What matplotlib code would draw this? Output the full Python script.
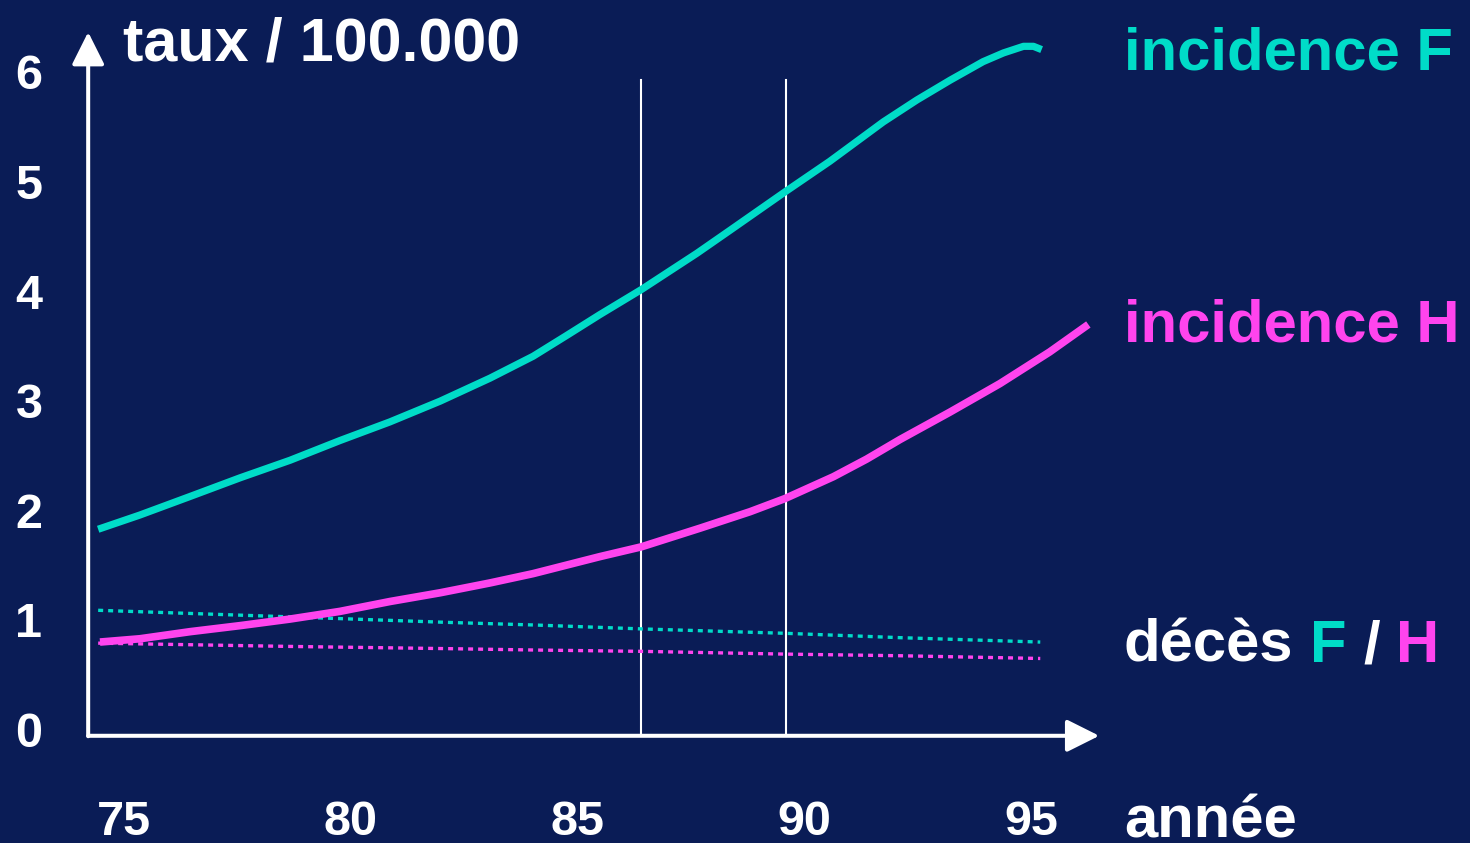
import matplotlib
matplotlib.use("Agg")
import matplotlib.pyplot as plt

# colours of the slide
bg = '#0a1c56'
teal = '#00dcc8'
magenta = '#ff44ee'

# incidence F (women)
years_F = [74.43, 75.35, 76.46, 77.56, 78.66, 79.76, 80.86, 81.97, 83.07, 84.02,
           84.76, 85.49, 86.41, 87.63, 88.36, 89.57, 90.56, 91.74, 92.48, 93.21,
           93.94, 94.39, 94.83, 95.05, 95.23]
incid_F = [1.87, 2.00, 2.17, 2.34, 2.50, 2.68, 2.85, 3.04, 3.25, 3.45,
           3.64, 3.83, 4.06, 4.39, 4.60, 4.95, 5.23, 5.59, 5.79, 5.97,
           6.14, 6.22, 6.28, 6.28, 6.25]

# incidence H (men)
years_H = [74.47, 75.35, 76.46, 77.56, 78.66, 79.76, 80.86, 81.97, 83.07, 84.02,
           85.49, 86.41, 87.70, 88.80, 89.57, 90.64, 91.37, 92.11, 93.21, 94.31,
           95.41, 96.26]
incid_H = [0.84, 0.87, 0.935, 0.99, 1.05, 1.12, 1.21, 1.29, 1.38, 1.465,
           1.62, 1.71, 1.88, 2.03, 2.15, 2.35, 2.51, 2.69, 2.94, 3.20,
           3.49, 3.74]

# deaths F / H (dotted)
years_d = [74.43, 78.66, 82.10, 84.10, 86.41, 89.57, 92.11, 95.2]
deces_F = [1.13, 1.07, 1.02, 0.995, 0.96, 0.92, 0.88, 0.84]
deces_H = [0.83, 0.80, 0.78, 0.767, 0.755, 0.73, 0.715, 0.69]

marks = [86.4, 89.6]
xticks = [75, 80, 85, 90, 95]
yticks = [0, 1, 2, 3, 4, 5, 6]

W, H = 1470, 843
font = 'Liberation Sans'

fig = plt.figure(figsize=(W / 100, H / 100), dpi=100, facecolor=bg)
ax = fig.add_axes([0, 0, 1, 1])
ax.set_facecolor(bg)
ax.axis('off')
ax.set_xlim(72.266, 104.674)
ax.set_ylim(-0.995, 6.703)

# vertical markers
for m in marks:
    ax.plot([m, m], [0, 5.97], color='white', lw=1.5)

# curves
ax.plot(years_d, deces_F, color=teal, lw=2.4, ls=(0, (1.5, 1.5)), dash_capstyle='butt')
ax.plot(years_d, deces_H, color=magenta, lw=2.4, ls=(0, (1.5, 1.5)), dash_capstyle='butt')
ax.plot(years_F, incid_F, color=teal, lw=5.2, solid_capstyle='butt', solid_joinstyle='round')
ax.plot(years_H, incid_H, color=magenta, lw=5.5, solid_capstyle='butt', solid_joinstyle='round')

# axes with arrows
arrow = dict(arrowstyle='-|>,head_length=1.0,head_width=0.5', lw=2.9, color='white',
             mutation_scale=20, shrinkA=0, shrinkB=0)
ax.annotate('', xy=(74.21, 6.41), xytext=(74.21, -0.02), arrowprops=arrow)
ax.annotate('', xy=(96.5, -0.016), xytext=(74.21, -0.016), arrowprops=arrow)

# tick labels
for t in xticks:
    ax.text(t, -0.92, str(t), color='white', fontsize=35, fontweight='bold',
            family=font, ha='center', va='baseline')
for t in yticks:
    ax.text(72.905, t, str(t), color='white', fontsize=35, fontweight='bold',
            family=font, ha='center', va='center')

# titles and labels
kw = dict(fontsize=43, fontweight='bold', family=font, va='baseline')
fig.text(123 / W, 1 - 61 / H, 'taux / 100.000', color='white', fontsize=44,
         fontweight='bold', family=font, va='baseline')
fig.text(1124 / W, 1 - 70 / H, 'incidence F', color=teal, **kw)
fig.text(1124 / W, 1 - 342 / H, 'incidence H', color=magenta, **kw)
fig.text(1124 / W, 1 - 837 / H, 'année', color='white', **kw)

# "décès F / H" in three colours
renderer = fig.canvas.get_renderer()
full = 'décès F / H'
pieces = [(0, 'décès', 'white'), (6, 'F', teal), (8, '/', 'white'), (10, 'H', magenta)]
x0 = 1124
y0 = 1 - 662 / H
for start, s, c in pieces:
    if start == 0:
        dx = 0
    else:
        probe = fig.text(0, 0, full[:start + 1], **kw)
        one = fig.text(0, 0, full[start], **kw)
        dx = probe.get_window_extent(renderer).width - one.get_window_extent(renderer).width
        probe.remove()
        one.remove()
    fig.text((x0 + dx) / W, y0, s, color=c, **kw)

fig.savefig('out.png', dpi=100, facecolor=bg)
